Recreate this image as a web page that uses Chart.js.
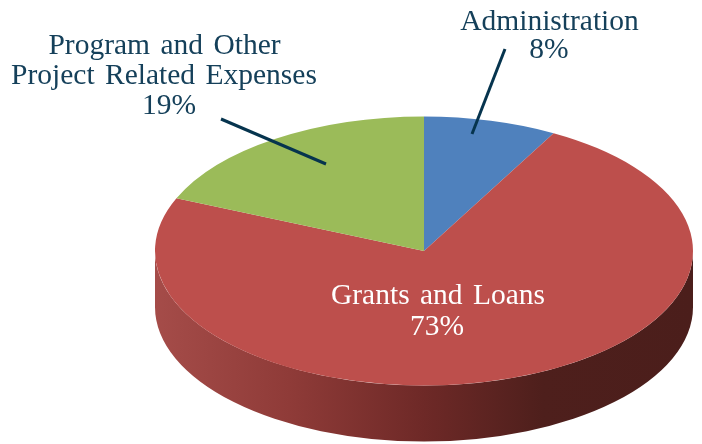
<!DOCTYPE html>
<html>
<head>
<meta charset="utf-8">
<style>
  html, body { margin: 0; padding: 0; background: #fff; overflow: hidden; }
  #wrap { width: 702px; height: 444px; }
</style>
<script src="https://cdn.jsdelivr.net/npm/chart.js@4"></script>
</head>
<body>
<div id="wrap"><canvas id="chart" width="702" height="444"></canvas></div>
<script>
var categories = ['Administration', 'Grants and Loans', 'Program and Other Project Related Expenses'];
var values = [8, 73.4, 18.6];
var colors = ['#4f81bd', '#bd4f4c', '#9bbb59'];

var squash = 0.5;
var depth = 56;
var font = '29.5px "Liberation Serif"';
var textColor = '#15405a';
var lineColor = '#06344e';

function pct(i) {
    return Math.round(values[i]) + '%';
}

var labels = [
    { text: categories[0], x: 549.5, y: 30, color: textColor },
    { text: pct(0), x: 549, y: 58, color: textColor },
    { text: 'Program and Other', x: 164.5, y: 54, color: textColor },
    { text: 'Project Related Expenses', x: 164, y: 84, color: textColor },
    { text: pct(2), x: 169, y: 114, color: textColor },
    { text: categories[1], x: 438, y: 304, color: '#ffffff' },
    { text: pct(1), x: 437, y: 335, color: '#ffffff' }
];
var leaders = [
    [505, 49, 472, 134],
    [221, 119, 326, 164]
];

// squashes the flat pie into an ellipse and draws the side wall under it
var pie3d = {
    id: 'pie3d',
    beforeDatasetsDraw: function (chart) {
        var ctx = chart.ctx;
        var arc = chart.getDatasetMeta(0).data[1];
        var rx = arc.outerRadius, ry = rx * squash;

        var grad = ctx.createLinearGradient(arc.x - rx, 0, arc.x + rx, 0);
        grad.addColorStop(0, '#a54c49');
        grad.addColorStop(0.25, '#8f3b38');
        grad.addColorStop(0.5, '#6e2927');
        grad.addColorStop(0.72, '#4e1f1c');
        grad.addColorStop(1, '#4b1e1b');

        ctx.save();
        ctx.beginPath();
        ctx.ellipse(arc.x, arc.y, rx, ry, 0, 0, Math.PI);
        ctx.lineTo(arc.x - rx, arc.y + depth);
        ctx.ellipse(arc.x, arc.y + depth, rx, ry, 0, Math.PI, 0, true);
        ctx.closePath();
        ctx.fillStyle = grad;
        ctx.fill();
        ctx.restore();

        ctx.save();
        ctx.translate(0, arc.y);
        ctx.scale(1, squash);
        ctx.translate(0, -arc.y);
    },
    afterDatasetsDraw: function (chart) {
        chart.ctx.restore();
    },
    afterDraw: function (chart) {
        var ctx = chart.ctx;
        ctx.save();
        ctx.strokeStyle = lineColor;
        ctx.lineWidth = 3;
        leaders.forEach(function (l) {
            ctx.beginPath();
            ctx.moveTo(l[0], l[1]);
            ctx.lineTo(l[2], l[3]);
            ctx.stroke();
        });
        ctx.font = font;
        ctx.wordSpacing = '3px';
        ctx.textAlign = 'center';
        ctx.textBaseline = 'alphabetic';
        labels.forEach(function (l) {
            ctx.fillStyle = l.color;
            ctx.fillText(l.text, l.x, l.y);
        });
        ctx.restore();
    }
};

var lineChart = new Chart(document.getElementById('chart'), {
    type: 'pie',
    data: {
        labels: categories,
        datasets: [{
            data: values,
            backgroundColor: colors,
            borderWidth: 0
        }]
    },
    options: {
        responsive: false,
        animation: false,
        devicePixelRatio: 1,
        radius: 269,
        layout: { padding: { left: 146, top: 58 } },
        plugins: { legend: { display: false }, tooltip: { enabled: false } }
    },
    plugins: [pie3d]
});
</script>
</body>
</html>
